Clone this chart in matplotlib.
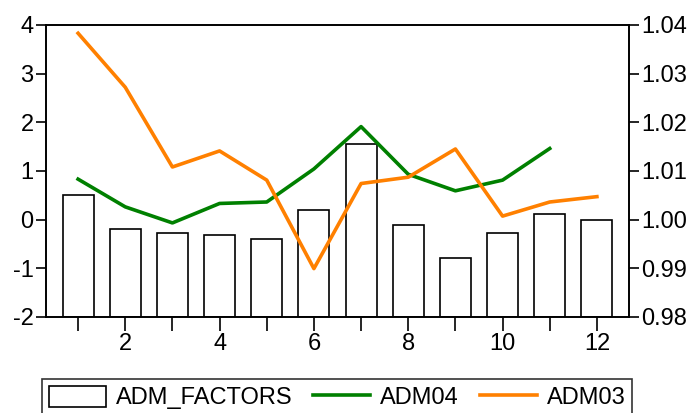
import numpy as np
import matplotlib
matplotlib.use('Agg')
import matplotlib.pyplot as plt
from matplotlib.ticker import FormatStrFormatter

plt.rcParams['font.family'] = ['Liberation Sans', 'DejaVu Sans']
plt.rcParams['axes.unicode_minus'] = False

periodos = np.arange(1, 13)
adm_factors = [0.50, -0.20, -0.28, -0.31, -0.40, 0.19, 1.55, -0.12, -0.80, -0.27, 0.11, 0.00]
adm04 = [0.83, 0.26, -0.07, 0.33, 0.36, 1.04, 1.91, 0.93, 0.59, 0.81, 1.46]
adm03 = [1.0383, 1.0272, 1.0108, 1.0141, 1.0081, 0.9899, 1.0074, 1.0087, 1.0145, 1.0007, 1.0036, 1.0047]

fig = plt.figure(figsize=(6.95, 4.13), dpi=100)
ax = fig.add_axes([0.0662, 0.233, 0.8388, 0.7065])

base = -2
barras = ax.bar(periodos, np.array(adm_factors) - base, bottom=base, width=0.66,
                facecolor='white', edgecolor='black', linewidth=1.2, label='ADM_FACTORS', zorder=2)
linea04, = ax.plot(periodos[:len(adm04)], adm04, color='#008000', linewidth=2.6, label='ADM04', zorder=3)
ax.set_xlim(0.32, 12.68)
ax.set_ylim(-2, 4)
ax.set_yticks(range(-2, 5))

ax2 = ax.twinx()
linea03, = ax2.plot(periodos, adm03, color='#FF8000', linewidth=2.6, label='ADM03', zorder=3)
ax2.set_ylim(0.98, 1.04)
ax2.set_yticks(np.linspace(0.98, 1.04, 7))
ax2.yaxis.set_major_formatter(FormatStrFormatter('%.2f'))

ax.set_xticks(periodos)
ax.set_xticklabels([str(p) if p % 2 == 0 else '' for p in periodos])

for a in (ax, ax2):
    for s in a.spines.values():
        s.set_linewidth(1.2)
    a.tick_params(labelsize=17, width=1.2, direction='out')
ax.tick_params(axis='y', length=7, pad=2)
ax.tick_params(axis='x', length=10, pad=2)
ax2.tick_params(axis='y', length=7, pad=2)

leg = fig.legend([barras, linea04, linea03], ['ADM_FACTORS', 'ADM04', 'ADM03'],
                 loc='upper center', bbox_to_anchor=(0.485, 0.083),
                 ncol=3, fontsize=17, frameon=True, fancybox=False,
                 handlelength=2.4, handleheight=1.0, handletextpad=0.42, columnspacing=0.9,
                 borderpad=0.3, borderaxespad=0)
leg.get_frame().set_edgecolor('black')
leg.get_frame().set_linewidth(1.2)

fig.savefig('out.png', dpi=100)
